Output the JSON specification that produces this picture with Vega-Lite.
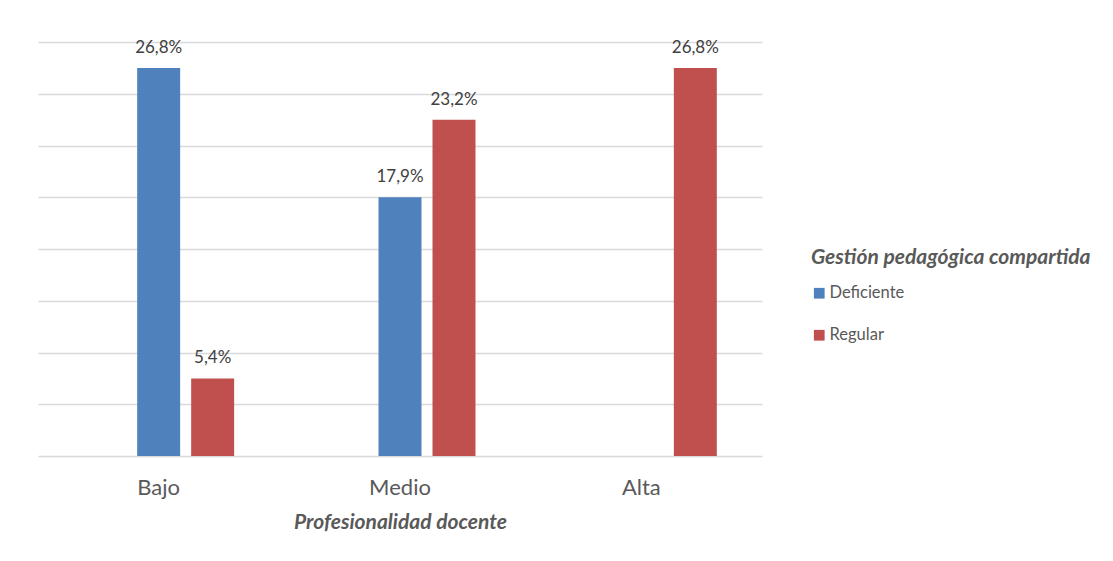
{
  "$schema": "https://vega.github.io/schema/vega-lite/v6.json",
  "width": 724,
  "height": 414,
  "autosize": {"type": "none"},
  "padding": {"left": 38, "top": 42, "right": 351, "bottom": 105},
  "background": "white",
  "config": {
    "font": "Lato",
    "view": {"stroke": null},
    "locale": {"number": {"decimal": ",", "thousands": ".", "grouping": [3], "currency": ["", " €"]}}
  },
  "data": {
    "values": [
      {"nivel": "Bajo", "serie": "Deficiente", "n": 15, "pct": 0.268},
      {"nivel": "Bajo", "serie": "Regular", "n": 3, "pct": 0.054},
      {"nivel": "Medio", "serie": "Deficiente", "n": 10, "pct": 0.179},
      {"nivel": "Medio", "serie": "Regular", "n": 13, "pct": 0.232},
      {"nivel": "Alta", "serie": "Regular", "n": 15, "pct": 0.268}
    ]
  },
  "encoding": {
    "x": {
      "field": "nivel",
      "type": "nominal",
      "sort": ["Bajo", "Medio", "Alta"],
      "scale": {"paddingInner": 0, "paddingOuter": 0},
      "axis": {
        "title": "Profesionalidad docente",
        "labelAngle": 0,
        "labelFontSize": 22,
        "labelColor": "#595959",
        "labelPadding": 21,
        "ticks": false,
        "tickSize": 0,
        "domainColor": "#d9d9d9",
        "domainWidth": 1.5,
        "titleFontSize": 21,
        "titleFontStyle": "italic",
        "titleFontWeight": "bold",
        "titleColor": "#595959",
        "titlePadding": 13
      }
    },
    "xOffset": {
      "field": "serie",
      "type": "nominal",
      "scale": {"domain": [" ", "Deficiente", "Regular"], "paddingInner": 0.204, "paddingOuter": 0.837}
    },
    "y": {
      "field": "n",
      "type": "quantitative",
      "scale": {"domain": [0, 16], "nice": false},
      "axis": {
        "title": null,
        "labels": false,
        "ticks": false,
        "domain": false,
        "values": [2, 4, 6, 8, 10, 12, 14, 16],
        "gridColor": "#d9d9d9",
        "gridWidth": 1.3
      }
    }
  },
  "layer": [
    {
      "mark": {"type": "bar"},
      "encoding": {
        "color": {
          "field": "serie",
          "type": "nominal",
          "scale": {"domain": ["Deficiente", "Regular"], "range": ["#4F81BD", "#C0504D"]},
          "legend": {
            "orient": "none",
            "legendX": 773,
            "legendY": 205,
            "padding": 0,
            "title": "Gestión pedagógica compartida",
            "titleFontSize": 21,
            "titleFontStyle": "italic",
            "titleFontWeight": "bold",
            "titleColor": "#595959",
            "titleLimit": 500,
            "titlePadding": 17,
            "labelFontSize": 16.5,
            "labelColor": "#595959",
            "labelOffset": 2,
            "labelLimit": 300,
            "symbolType": "square",
            "symbolSize": 115,
            "symbolStrokeWidth": 0,
            "rowPadding": 25
          }
        }
      }
    },
    {
      "mark": {"type": "text", "baseline": "alphabetic", "dy": -15, "fontSize": 17, "color": "#404040"},
      "encoding": {
        "text": {"field": "pct", "type": "quantitative", "format": ".1%"}
      }
    }
  ]
}
